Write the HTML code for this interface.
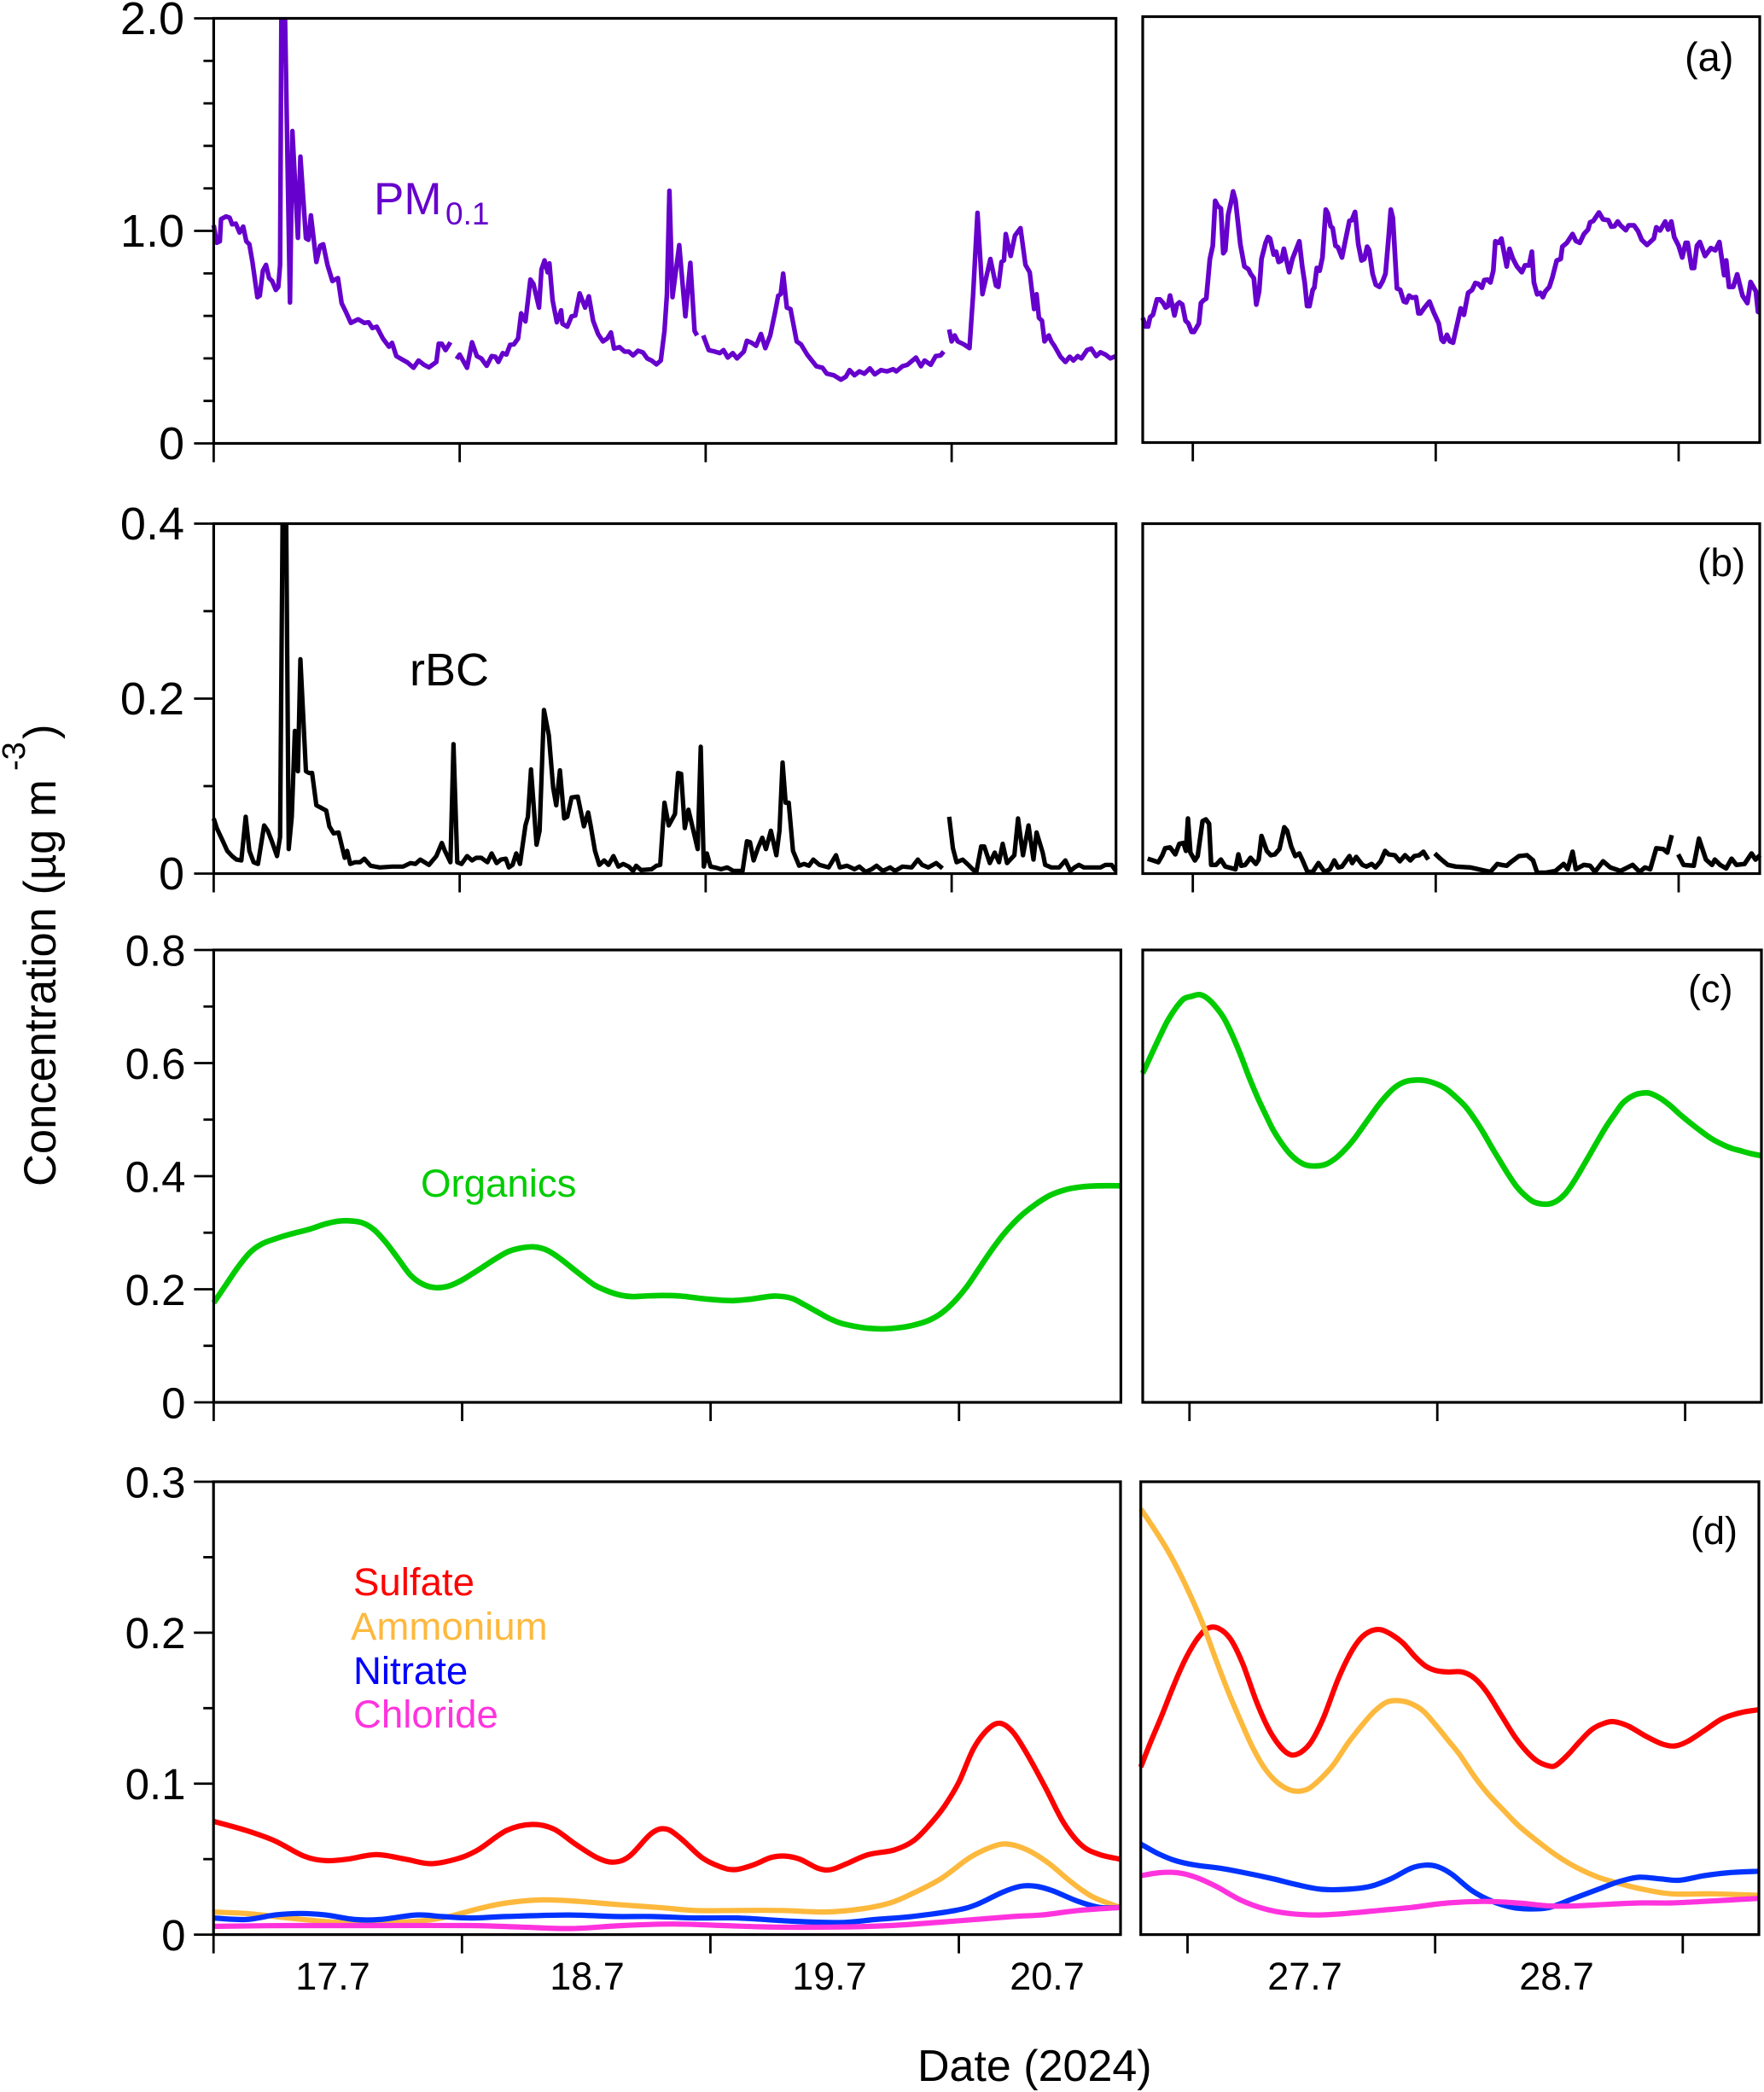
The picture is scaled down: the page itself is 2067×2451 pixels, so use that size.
<!DOCTYPE html>
<html lang="en">
<head>
<meta charset="utf-8">
<title>Concentration time series, July 2024</title>
<style>
html,body{margin:0;padding:0;background:#fff;}
svg{display:block;font-family:"Liberation Sans",Arial,sans-serif;}
</style>
</head>
<body>
<svg id="chart" xmlns="http://www.w3.org/2000/svg" width="2067" height="2451" viewBox="0 0 2067 2451">
  <rect width="2067" height="2451" fill="#fff"/>
  <defs id="clips"></defs>
  <g id="series-layer"></g>
  <g id="axes-layer"></g>

  <text x="438" y="251" font-size="53" fill="#6600cc">PM<tspan x="522" y="263" font-size="37">0.1</tspan></text>
  <text x="480" y="803" font-size="54" fill="#000">rBC</text>
  <text x="493" y="1402" font-size="45.6" fill="#00cc00">Organics</text>

  <text x="414" y="1869" font-size="45.6" fill="#ff0000">Sulfate</text>
  <text x="411" y="1921" font-size="45.6" fill="#fdb93d">Ammonium</text>
  <text x="414" y="1973" font-size="45.6" fill="#0000ff">Nitrate</text>
  <text x="414" y="2024" font-size="45.6" fill="#ff33dd">Chloride</text>

  <text x="1974" y="83" font-size="47">(a)</text>
  <text x="1989" y="675" font-size="46">(b)</text>
  <text x="1978" y="1174" font-size="45">(c)</text>
  <text x="1981" y="1809" font-size="45">(d)</text>

  <text x="1075" y="2438" font-size="52">Date (2024)</text>
  <text transform="translate(65 1390) rotate(-90)" font-size="52.5">Concentration (µg m</text>
  <text transform="translate(29 903) rotate(-90)" font-size="38">-3</text>
  <text transform="translate(65 866) rotate(-90)" font-size="52.5">)</text>
</svg>

<script>
// ---- hours since midnight of 17 July (left panels) / 27 July (right panels) ----
const pmEarlyHours = [0,.3,.6,.72,1.2,1.56,1.8,2.16,2.52,2.88,3.18,3.48,3.78,4.26,4.5,4.8,5.1,5.4,5.7,6.06,6.3,6.48,6.6,6.96,7.44,7.68,8.22,8.46,9,9.24,9.48,10.02,10.38,10.68,11.1,11.58,12.12,12.48,12.9,13.38,14.1,14.7,15.12,15.48,15.9,16.5,17.1,17.4,17.82,18.3,18.9,19.5,19.98,20.52,21,21.72,21.96,22.26,22.62,23.1,null,
23.7,24,24.72,25.2,25.68,26.1,26.64,27.12,27.48,27.78,28.2,28.56,28.92,29.28,29.7,30,30.42,30.9,31.2,31.74,31.98,32.28,32.58,32.76,33.06,33.48,33.9,34.02,34.5,34.92,35.28,35.7,36.24,36.6,37.02,37.5,37.98,38.4,38.76,39.06,39.6,40.08,40.5,40.92,41.4,41.88,42.3,42.72,43.2,43.62,43.98,44.22,44.46,44.76,45.42,46.02,46.5,46.92,47.16,null,
47.76,48.3,48.9,49.38,49.74,50.16,50.64,51.06,51.72,52.02,52.5,52.92,53.4,53.82,54.3,54.78,55.08,55.32,55.56,55.92,56.28,56.88,57.3,57.9,58.8,59.4,59.82,60.48,61.2,61.68,62.04,62.52,63,63.48,64.02,64.5,65.1,65.7,66.3,66.6,67.2,67.68,68.52,69,69.36,69.96,70.44,70.92,71.22,null,
71.76,72,72.3,72.6,73.2,73.74,74.1,74.52,75,75.78,76.32,76.56,76.86,77.1,77.28,77.76,78.18,78.72,79.2,79.62,80.04,80.28,80.52,80.82,81.06,81.48,81.72,82.02,82.62,83.1,83.52,83.88,84.3,84.66,85.2,85.62,86.1,86.52,87,87.48,88.02];
const pmEarlyValues = [1.027,.944,.951,1.055,1.068,1.062,1.031,1.034,.992,1.02,.951,.937,.854,.688,.695,.812,.84,.778,.764,.722,.736,.84,2,2,.663,1.47,.967,1.349,.965,.958,1.073,.854,.93,.937,.84,.764,.778,.66,.619,.567,.584,.567,.57,.543,.549,.494,.455,.473,.411,.397,.381,.356,.39,.37,.358,.383,.469,.469,.439,.476,null,
.397,.418,.356,.476,.411,.4,.365,.411,.408,.383,.425,.418,.464,.466,.494,.612,.574,.771,.75,.639,.819,.861,.805,.847,.674,.57,.626,.563,.549,.598,.602,.706,.639,.692,.577,.515,.48,.494,.522,.446,.453,.432,.432,.414,.436,.428,.4,.39,.372,.39,.529,.702,1.189,.688,.933,.598,.85,.529,.508,null,
.508,.439,.432,.425,.439,.404,.425,.4,.432,.483,.473,.459,.515,.448,.508,.619,.695,.702,.799,.639,.632,.48,.466,.418,.363,.356,.328,.321,.3,.314,.345,.321,.339,.328,.353,.325,.345,.339,.349,.339,.363,.37,.404,.363,.39,.37,.411,.414,.432,null,
.536,.48,.508,.48,.466,.448,.702,1.085,.702,.868,.743,.736,.854,.861,.985,.882,.978,1.013,.84,.805,.632,.702,.591,.577,.48,.508,.48,.459,.408,.383,.408,.39,.411,.4,.439,.446,.411,.429,.418,.4,.411];

const pmLateHours = [-4.94,-4.66,-4.42,-4.22,-3.94,-3.54,-3.25,-2.93,-2.69,-2.45,-2.25,-2.01,-1.81,-1.57,-1.33,-1.04,-.72,-.44,-.12,.12,.6,.8,1.08,1.33,1.69,1.97,2.21,2.49,2.77,3.01,3.21,3.49,3.82,3.98,4.22,4.7,5.1,5.5,5.7,6.03,6.27,6.55,6.79,7.19,7.43,7.63,7.99,8.23,8.48,8.76,9,9.52,9.84,10.52,10.81,11.05,11.29,11.53,11.85,12.01,12.25,12.53,12.81,13.14,13.34,13.62,13.82,14.1,14.34,14.74,15.06,15.47,15.71,16.03,16.35,16.67,16.95,17.23,17.43,17.76,18.08,18.44,18.76,19.04,19.36,19.56,19.76,20.17,20.49,20.85,21.09,21.37,21.65,22.05,22.29,22.5,22.9,23.38,23.78,24.3,24.58,24.78,25.11,25.39,25.71,26.47,26.79,27.2,27.6,27.92,28.2,28.56,28.8,29.12,29.4,29.69,29.89,30.21,30.49,31.01,31.29,31.61,32.02,32.5,32.82,33.22,33.5,33.7,34.02,34.35,34.59,34.83,35.23,35.55,35.95,36.35,36.51,36.96,37.52,37.84,38.24,38.64,39.05,39.25,39.57,40.13,40.53,41.05,41.34,41.66,41.98,42.26,42.78,43.06,43.58,43.99,44.35,44.87,45.55,45.79,46.16,46.68,46.96,47.28,47.56,48,48.36,48.69,48.89,49.29,49.53,49.81,50.09,50.61,51.18,51.62,52.02,52.5,52.7,52.98,53.39,53.79,54.31,54.79,55.11,55.63,55.84,56.04];
const pmLateValues = [.586,.545,.545,.589,.6,.672,.672,.655,.634,.641,.69,.641,.597,.648,.658,.648,.572,.559,.52,.52,.559,.655,.669,.676,.862,.924,1.135,1.11,1.099,.889,.903,1.069,1.138,1.179,1.138,.931,.827,.814,.793,.772,.648,.71,.862,.938,.965,.958,.883,.896,.848,.855,.91,.8,.862,.945,.827,.752,.641,.641,.717,.727,.82,.807,.869,1.094,1.076,1.016,1.007,.924,.917,.869,.945,1.041,1.044,1.083,.931,.855,.862,.92,.903,.793,.741,.731,.758,.793,.972,1.094,1.055,.724,.717,.662,.658,.69,.68,.683,.607,.607,.634,.662,.614,.559,.483,.473,.506,.476,.469,.63,.6,.703,.717,.749,.745,.727,.763,.765,.752,.807,.945,.938,.958,.827,.91,.865,.827,.8,.832,.832,.896,.752,.696,.703,.683,.71,.731,.779,.855,.862,.92,.938,.979,.947,.938,.979,1,1.034,1.041,1.08,1.048,1.044,1.014,1.016,1.038,1.02,.997,1.02,1.02,.993,.952,.928,.958,1.011,.996,1.038,1,1.038,.965,.924,.869,.938,.938,.82,.82,.924,.942,.876,.913,.903,.942,.786,.855,.731,.731,.79,.69,.655,.754,.71,.614,.611];

const rbcEarlyHours = [0,.3,.9,1.32,1.8,2.22,2.7,3.12,3.48,3.9,4.32,4.92,5.28,5.7,6.18,6.48,6.72,7.08,7.32,7.62,7.92,8.22,8.46,9,9.3,9.6,10.02,10.5,10.98,11.28,11.7,12.18,12.78,13.02,13.32,13.8,14.28,14.7,15.3,16.2,17.4,18.48,19.2,19.68,20.16,21,21.72,22.26,22.56,23.1,23.4,23.76,24.18,24.72,25.2,25.62,26.1,26.7,27.12,27.6,28.02,28.5,28.8,29.16,29.52,29.88,30.42,30.66,30.96,31.2,31.5,31.8,32.22,32.7,33.12,33.42,33.78,34.2,34.5,34.92,35.52,36.12,36.54,36.78,37.2,37.62,38.1,38.52,39,39.48,39.96,40.5,40.92,41.22,41.7,42.72,43.2,43.56,43.98,44.4,45,45.3,45.6,45.96,46.32,46.8,47.22,47.52,47.82,48.12,48.48,48.9,49.5,50.1,50.7,51.6,52.02,52.32,52.68,53.1,53.52,53.88,54.36,54.9,55.2,55.5,55.8,56.1,56.52,57.12,57.6,58.08,58.5,59.1,60,60.72,61.08,61.8,62.52,63,63.6,64.2,64.68,65.28,66,66.48,67.2,68.1,68.7,69.12,69.72,70.5,71.1,null,
71.76,72.12,72.48,73.08,73.62,74.4,74.88,75.18,75.72,76.2,76.62,76.98,77.4,78.12,78.48,78.96,79.5,79.98,80.28,80.88,81.12,81.72,82.5,83.1,83.58,84,84.42,84.9,85.8,86.52,87,87.6,88.02];
const rbcEarlyValues = [.063,.052,.037,.026,.02,.016,.015,.065,.026,.013,.011,.055,.049,.036,.02,.042,.4,.4,.028,.065,.163,.117,.245,.117,.115,.115,.078,.075,.072,.054,.046,.047,.018,.026,.011,.013,.013,.017,.009,.007,.008,.008,.012,.011,.016,.01,.02,.035,.026,.013,.148,.013,.011,.02,.015,.018,.018,.013,.023,.012,.016,.017,.007,.01,.023,.011,.055,.065,.119,.081,.033,.049,.187,.158,.098,.078,.118,.063,.065,.087,.088,.054,.07,.055,.026,.01,.015,.01,.02,.008,.011,.008,.003,.009,.004,.005,.009,.01,.081,.055,.068,.115,.114,.052,.073,.049,.028,.145,.008,.023,.008,.007,.005,.007,.003,.003,.037,.036,.015,.029,.041,.028,.049,.021,.049,.127,.081,.081,.026,.009,.011,.009,.016,.01,.007,.021,.007,.009,.005,.008,.002,.005,.009,.003,.007,.003,.008,.007,.016,.01,.007,.012,.006,null,
.065,.029,.013,.016,.01,.001,.031,.031,.012,.024,.013,.034,.012,.021,.063,.021,.055,.016,.047,.024,.01,.007,.007,.015,.003,.007,.01,.007,.007,.007,.01,.01,.003];

const rbcLateHours = [-4.46,-3.94,-3.41,-3.01,-2.73,-2.25,-1.73,-1.33,-.92,-.68,-.48,-.24,.2,.48,.96,1.29,1.61,1.81,2.29,2.77,3.21,4.22,4.5,4.78,5.18,5.7,6.23,6.51,6.79,7.31,7.71,8.11,8.56,9.04,9.32,9.72,10.12,10.52,10.81,11.33,11.85,12.41,13.02,13.54,13.98,14.34,14.74,15.47,15.75,16.15,16.75,17.15,17.67,18.04,18.56,19,19.36,19.96,20.45,20.97,21.49,21.89,22.37,22.78,23.26,null,
23.9,24.46,25.19,25.99,27.4,28.2,29.4,30.09,30.49,31.01,31.41,32.22,33.02,33.62,34.02,34.83,35.83,36.64,37.04,37.52,37.84,38.64,39.25,39.73,40.53,41.25,42.26,43.46,44.15,44.67,45.19,45.79,46.48,46.88,47.32,null,
47.96,48.49,49.49,50.01,50.7,51.3,51.58,52.1,52.7,53.23,53.71,54.51,55.2,55.6,56.04];
const rbcLateValues = [.017,.015,.013,.021,.029,.03,.022,.034,.035,.026,.063,.024,.015,.02,.06,.062,.057,.01,.01,.016,.008,.005,.022,.009,.01,.018,.011,.016,.043,.026,.021,.022,.028,.053,.049,.031,.02,.023,.016,.002,.002,.012,.002,.005,.015,.007,.008,.02,.012,.019,.01,.008,.011,.007,.014,.026,.022,.021,.014,.021,.015,.02,.021,.025,.016,null,
.023,.017,.01,.008,.007,.005,.002,.011,.01,.009,.013,.02,.021,.015,.001,.001,.003,.011,.005,.025,.005,.01,.009,.002,.014,.007,.003,.01,.002,.007,.005,.029,.028,.024,.044,null,
.022,.01,.009,.04,.016,.01,.016,.01,.006,.017,.01,.011,.023,.016,.021];

const organicsEarlyHours = [0,1.19,2.38,3.56,4.75,6.24,7.72,9.21,10.69,11.88,13.07,14.26,15.44,16.63,17.82,19.01,20.2,21.38,22.57,23.76,24.95,26.14,27.32,28.51,29.7,30.89,32.08,33.26,34.45,35.64,36.83,38.02,39.2,40.39,41.58,43.36,45.14,46.93,48.71,50.19,51.68,53.16,54.35,55.84,57.02,58.21,59.4,60.59,61.78,63.26,64.75,66.23,67.72,69.2,70.39,71.58,72.77,73.95,75.14,76.33,77.81,79.3,80.78,82.27,83.75,85.54,87.62];
const organicsEarlyValues = [.176,.208,.24,.266,.281,.291,.299,.306,.315,.32,.321,.318,.306,.283,.254,.225,.209,.203,.205,.214,.227,.241,.255,.267,.273,.275,.27,.257,.24,.223,.207,.197,.19,.187,.188,.189,.188,.184,.181,.18,.182,.186,.188,.184,.173,.161,.149,.14,.135,.131,.13,.132,.137,.146,.159,.179,.205,.237,.269,.298,.327,.349,.366,.376,.381,.383,.383];

const organicsLateHours = [-4.53,-3.74,-2.95,-2.17,-1.38,-.59,.2,.98,1.77,2.56,3.35,4.13,4.92,5.71,6.5,7.29,8.07,8.86,9.65,10.44,11.22,12.21,13.19,14.18,15.16,15.95,16.74,17.52,18.31,19.1,19.89,20.87,21.86,22.84,23.82,24.81,25.79,26.78,27.76,28.55,29.34,30.13,30.91,31.7,32.49,33.28,34.06,34.85,35.64,36.43,37.21,38,38.79,39.58,40.36,41.15,41.94,42.73,43.52,44.5,45.48,46.47,47.45,48.44,49.42,50.41,51.39,52.38,53.36,54.34,55.41];
const organicsLateValues = [.582,.613,.644,.673,.696,.713,.718,.721,.714,.699,.679,.65,.616,.578,.543,.512,.483,.46,.441,.428,.42,.418,.421,.432,.449,.466,.486,.506,.526,.543,.557,.567,.57,.569,.564,.555,.54,.522,.497,.474,.449,.425,.402,.381,.366,.355,.351,.351,.357,.37,.39,.414,.439,.464,.488,.509,.529,.54,.546,.547,.539,.526,.51,.495,.481,.468,.458,.45,.445,.44,.436];

const sulfateEarlyHours = [0,3.15,5.94,8.74,10.83,12.93,15.73,18.52,20.97,23.42,25.51,28.31,30.76,32.85,34.95,37.05,38.65,40.19,42.29,43.69,45.09,47.18,48.93,50.33,52.08,53.82,55.22,56.62,58.37,59.62,61.16,63.26,65.71,67.59,69.2,70.6,72,73.4,74.79,75.98,77.24,78.64,80.39,82.13,83.88,85.63,87.58];
const sulfateEarlyValues = [.075,.069,.062,.052,.049,.05,.053,.05,.047,.05,.056,.069,.073,.07,.06,.051,.048,.052,.067,.07,.064,.051,.045,.043,.046,.051,.052,.05,.044,.043,.047,.053,.056,.062,.073,.085,.101,.123,.136,.14,.134,.119,.097,.074,.059,.053,.05];
const ammoniumEarlyHours = [0,3.15,5.94,8.74,12.23,15.73,19.92,22.72,25.51,28.31,31.8,35.3,38.79,42.99,46.48,50.68,54.87,59.07,62.56,65.36,67.45,70.25,73.05,75.14,76.68,78.64,80.73,82.83,84.93,87.58];
const ammoniumEarlyValues = [.015,.014,.012,.01,.008,.008,.009,.012,.017,.021,.023,.022,.02,.018,.016,.016,.016,.015,.017,.021,.027,.037,.051,.058,.06,.056,.047,.035,.025,.018];
const nitrateEarlyHours = [0,3.15,5.94,8.39,10.83,13.63,16.08,19.57,22.02,24.81,28.31,34.25,38.79,42.29,46.48,50.68,55.57,60.46,63.96,67.45,71.65,73.74,76.19,77.94,79.48,81.08,83.53,85.63,87.58];
const nitrateEarlyValues = [.011,.01,.013,.014,.013,.01,.01,.013,.012,.011,.012,.013,.012,.012,.011,.011,.009,.008,.01,.012,.016,.02,.028,.032,.032,.029,.022,.018,.018];
const chlorideEarlyHours = [0,7.34,15.73,24.81,29.71,34.6,39.49,44.39,49.28,54.17,59.76,65.36,71.65,77.24,80.04,83.53,87.58];
const chlorideEarlyValues = [.0055,.006,.006,.006,.005,.004,.006,.007,.006,.005,.005,.006,.009,.012,.013,.016,.018];

const sulfateLateHours = [-4.53,-3.55,-2.56,-1.58,-.59,.39,1.18,1.97,2.96,4.14,5.32,6.7,7.88,9.06,10.05,11.03,12.02,13.2,14.58,15.76,16.75,17.73,18.72,19.71,20.89,22.07,23.05,24.04,25.22,26.6,27.78,28.97,30.35,31.73,32.91,33.89,34.88,35.67,36.85,38.03,39.21,40.39,41.38,42.76,44.53,46.11,47.29,48.47,50.05,51.82,53.6,55.41];
const sulfateLateValues = [.111,.128,.144,.161,.177,.19,.198,.203,.203,.196,.18,.154,.136,.124,.119,.121,.128,.144,.169,.186,.196,.201,.202,.199,.193,.184,.178,.175,.174,.174,.17,.161,.146,.131,.121,.115,.112,.112,.119,.128,.136,.14,.141,.138,.131,.126,.125,.128,.135,.143,.147,.149];
const ammoniumLateHours = [-4.53,-3.35,-1.97,-.79,.39,1.58,2.76,3.94,5.12,6.31,7.49,8.67,9.85,10.84,11.82,13.01,14.19,15.57,16.95,18.13,19.31,20.49,21.68,22.86,24.04,25.22,26.4,27.78,29.16,30.54,32.12,33.89,35.86,37.83,39.8,41.77,44.14,46.9,50.84,55.41];
const ammoniumLateValues = [.282,.27,.255,.24,.223,.204,.182,.161,.142,.124,.11,.101,.096,.095,.097,.104,.113,.127,.139,.148,.154,.155,.153,.148,.139,.129,.119,.105,.093,.083,.072,.062,.052,.044,.038,.034,.03,.027,.027,.026];
const nitrateLateHours = [-4.53,-2.96,-1.18,.79,3.15,5.52,8.28,10.64,13.01,15.37,17.73,19.71,21.68,23.05,24.24,25.62,27.59,29.56,31.53,33.1,35.07,37.44,39.8,41.77,43.74,45.71,47.68,50.05,52.41,55.41];
const nitrateLateValues = [.06,.054,.049,.046,.044,.041,.037,.033,.03,.03,.032,.037,.044,.046,.045,.04,.029,.022,.018,.017,.018,.024,.03,.035,.038,.037,.036,.039,.041,.042];
const chlorideLateHours = [-4.53,-2.76,-.99,.79,2.76,5.12,7.49,9.85,12.61,15.37,18.52,21.68,25.22,28.77,31.92,35.07,37.44,40.59,43.74,46.9,50.05,55.41];
const chlorideLateValues = [.039,.041,.041,.038,.032,.023,.017,.014,.013,.014,.016,.018,.021,.022,.021,.019,.019,.02,.021,.021,.022,.024];

// ---- tick definitions ----
const earlyTickHours = [0,24,48,72];
const lateTickHours = [0,24,48];
const earlyDateLabels = ['17.7','18.7','19.7','20.7'];
const lateDateLabels = ['27.7','28.7'];
const pmTickValues = [0,1,2];
const pmTickLabels = ['0','1.0','2.0'];
const pmMinorValues = [.2,.4,.6,.8,1.2,1.4,1.6,1.8];
const rbcTickValues = [0,.2,.4];
const rbcTickLabels = ['0','0.2','0.4'];
const rbcMinorValues = [.1,.3];
const organicsTickValues = [0,.2,.4,.6,.8];
const organicsTickLabels = ['0','0.2','0.4','0.6','0.8'];
const organicsMinorValues = [.1,.3,.5,.7];
const ionsTickValues = [0,.1,.2,.3];
const ionsTickLabels = ['0','0.1','0.2','0.3'];
const ionsMinorValues = [.05,.15,.25];

const NS = 'http://www.w3.org/2000/svg';
const seriesLayer = document.getElementById('series-layer');
const axesLayer = document.getElementById('axes-layer');
const clipsEl = document.getElementById('clips');

function make(parent, tag, attrs) {
  const el = document.createElementNS(NS, tag);
  for (const k in attrs) el.setAttribute(k, attrs[k]);
  parent.appendChild(el);
  return el;
}

function scaleX(p) { return h => p.tick0 + h * p.pxPerHour; }
function scaleY(p) { return v => p.bottom - (v / p.yMax) * (p.bottom - p.top); }

function polyPath(hours, values, xs, ys) {
  let d = '', pen = false;
  for (let i = 0; i < hours.length; i++) {
    if (hours[i] === null || values[i] === null) { pen = false; continue; }
    d += (pen ? 'L' : 'M') + xs(hours[i]).toFixed(1) + ' ' + ys(values[i]).toFixed(1);
    pen = true;
  }
  return d;
}

function smoothPath(hours, values, xs, ys) {
  const pts = hours.map((h, i) => [xs(h), ys(values[i])]);
  let d = 'M' + pts[0][0].toFixed(1) + ' ' + pts[0][1].toFixed(1);
  for (let i = 0; i < pts.length - 1; i++) {
    const p0 = pts[i - 1] || pts[i], p1 = pts[i], p2 = pts[i + 1], p3 = pts[i + 2] || p2;
    const c1x = p1[0] + (p2[0] - p0[0]) / 6, c1y = p1[1] + (p2[1] - p0[1]) / 6;
    const c2x = p2[0] - (p3[0] - p1[0]) / 6, c2y = p2[1] - (p3[1] - p1[1]) / 6;
    d += 'C' + c1x.toFixed(1) + ' ' + c1y.toFixed(1) + ' ' + c2x.toFixed(1) + ' ' + c2y.toFixed(1) + ' ' + p2[0].toFixed(1) + ' ' + p2[1].toFixed(1);
  }
  return d;
}

function drawPanel(p) {
  const xs = scaleX(p), ys = scaleY(p);
  const clip = make(clipsEl, 'clipPath', { id: 'clip-' + p.id });
  make(clip, 'rect', { x: p.left - 3, y: p.top, width: p.right - p.left + 6, height: p.bottom - p.top });

  p.series.forEach(s => {
    const d = p.smooth ? smoothPath(s.hours, s.values, xs, ys) : polyPath(s.hours, s.values, xs, ys);
    const line = make(seriesLayer, 'path', { d: d, fill: 'none', stroke: s.color, 'stroke-width': p.lineWidth, 'stroke-linejoin': 'round', 'clip-path': 'url(#clip-' + p.id + ')' });
    
    
  });

  const frame = make(axesLayer, 'rect', { x: p.left, y: p.top, width: p.right - p.left, height: p.bottom - p.top, fill: 'none', stroke: '#000', 'stroke-width': 3.2 });
  
  

  p.xTicks.forEach(h => {
    const t = make(axesLayer, 'line', { x1: xs(h), x2: xs(h), y1: p.bottom, y2: p.bottom + 22, stroke: '#000', 'stroke-width': 2.8 });
    
    
  });

  if (p.yTicks) {
    p.yTicks.forEach((v, i) => {
      const t = make(axesLayer, 'line', { x1: p.left - 23, x2: p.left, y1: ys(v), y2: ys(v), stroke: '#000', 'stroke-width': 2.8 });
      
      
      const lab = make(axesLayer, 'text', { x: p.labelX, y: ys(v) + 18.3, 'font-size': p.labelSize, 'text-anchor': 'end', fill: '#000' });
      lab.textContent = p.yLabels[i];
      
      
    });
    p.yMinor.forEach(v => {
      const t = make(axesLayer, 'line', { x1: p.left - 12, x2: p.left, y1: ys(v), y2: ys(v), stroke: '#000', 'stroke-width': 2.8 });
      
      
    });
  }
}

const earlyA = { left: 250.4, right: 1307.7, tick0: 250.4, pxPerHour: 12.01 };
const lateA = { left: 1339, right: 2062, tick0: 1397.7, pxPerHour: 11.86 };

const panels = [
  Object.assign({}, earlyA, { id: 'a-early', top: 21.5, bottom: 519.5, yMax: 2, lineWidth: 5.4, xTicks: earlyTickHours, yTicks: pmTickValues, yLabels: pmTickLabels, yMinor: pmMinorValues, labelX: 216, labelSize: 54,
    series: [{ name: 'pm01', color: '#6600cc', hours: pmEarlyHours, values: pmEarlyValues }] }),
  Object.assign({}, lateA, { id: 'a-late', top: 19.5, bottom: 518.5, yMax: 2, lineWidth: 5.6, xTicks: lateTickHours,
    series: [{ name: 'pm01', color: '#6600cc', hours: pmLateHours, values: pmLateValues }] }),
  Object.assign({}, earlyA, { id: 'b-early', top: 613.5, bottom: 1023.5, yMax: .4, lineWidth: 5.2, xTicks: earlyTickHours, yTicks: rbcTickValues, yLabels: rbcTickLabels, yMinor: rbcMinorValues, labelX: 216, labelSize: 54,
    series: [{ name: 'rbc', color: '#000', hours: rbcEarlyHours, values: rbcEarlyValues }] }),
  Object.assign({}, lateA, { id: 'b-late', top: 613.5, bottom: 1023.5, yMax: .4, lineWidth: 5.4, xTicks: lateTickHours,
    series: [{ name: 'rbc', color: '#000', hours: rbcLateHours, values: rbcLateValues }] }),
  { id: 'c-early', left: 250.4, right: 1313.4, tick0: 250.4, pxPerHour: 12.13, top: 1113, bottom: 1643, yMax: .8, lineWidth: 6.6, smooth: true, xTicks: earlyTickHours, yTicks: organicsTickValues, yLabels: organicsTickLabels, yMinor: organicsMinorValues, labelX: 217.5, labelSize: 51,
    series: [{ name: 'organics', color: '#00cc00', hours: organicsEarlyHours, values: organicsEarlyValues }] },
  { id: 'c-late', left: 1339, right: 2064, tick0: 1393.8, pxPerHour: 12.1, top: 1113, bottom: 1643, yMax: .8, lineWidth: 6.6, smooth: true, xTicks: lateTickHours,
    series: [{ name: 'organics', color: '#00cc00', hours: organicsLateHours, values: organicsLateValues }] },
  { id: 'd-early', left: 250.2, right: 1313, tick0: 250.2, pxPerHour: 12.13, top: 1736, bottom: 2266.6, yMax: .3, lineWidth: 6.2, smooth: true, xTicks: earlyTickHours, yTicks: ionsTickValues, yLabels: ionsTickLabels, yMinor: ionsMinorValues, labelX: 217.5, labelSize: 51,
    series: [
      { name: 'ammonium', color: '#fdb93d', hours: ammoniumEarlyHours, values: ammoniumEarlyValues },
      { name: 'sulfate', color: '#ff0000', hours: sulfateEarlyHours, values: sulfateEarlyValues },
      { name: 'nitrate', color: '#0033ff', hours: nitrateEarlyHours, values: nitrateEarlyValues },
      { name: 'chloride', color: '#ff33dd', hours: chlorideEarlyHours, values: chlorideEarlyValues }
    ] },
  { id: 'd-late', left: 1336.7, right: 2061, tick0: 1391.5, pxPerHour: 12.09, top: 1736, bottom: 2266.6, yMax: .3, lineWidth: 6.2, smooth: true, xTicks: lateTickHours,
    series: [
      { name: 'sulfate', color: '#ff0000', hours: sulfateLateHours, values: sulfateLateValues },
      { name: 'ammonium', color: '#fdb93d', hours: ammoniumLateHours, values: ammoniumLateValues },
      { name: 'nitrate', color: '#0033ff', hours: nitrateLateHours, values: nitrateLateValues },
      { name: 'chloride', color: '#ff33dd', hours: chlorideLateHours, values: chlorideLateValues }
    ] }
];
panels.forEach(drawPanel);

// date labels sit between the day ticks of the bottom panels
const earlyDateCentres = [390, 688, 972, 1227];
const lateDateCentres = [1529, 1824];
function drawDates(labels, centres) {
  labels.forEach((txt, i) => {
    const t = make(axesLayer, 'text', { x: centres[i], y: 2331, 'font-size': 45, 'text-anchor': 'middle', fill: '#000' });
    t.textContent = txt;
    
    
  });
}
drawDates(earlyDateLabels, earlyDateCentres);
drawDates(lateDateLabels, lateDateCentres);
</script>
</body>
</html>
